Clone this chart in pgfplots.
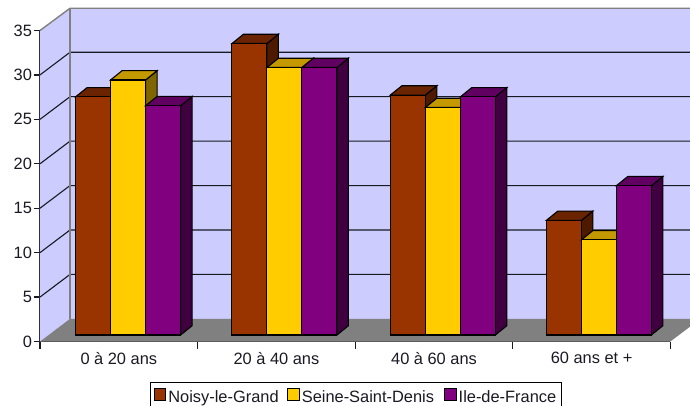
\documentclass[border=0pt]{standalone}
\usepackage{pgfplots}
\usepackage{pgfplotstable}
\usepackage{fontspec}
\pgfplotsset{compat=1.18}
\setmainfont{Liberation Sans}

\definecolor{wall}{RGB}{204,204,255}
\definecolor{floorgrey}{RGB}{128,128,128}
\definecolor{brownF}{RGB}{153,51,0}
\definecolor{brownT}{RGB}{107,36,0}
\definecolor{brownS}{RGB}{77,26,0}
\definecolor{yellowF}{RGB}{255,204,0}
\definecolor{yellowT}{RGB}{196,153,0}
\definecolor{yellowS}{RGB}{128,102,0}
\definecolor{purpleF}{RGB}{128,0,128}
\definecolor{purpleT}{RGB}{96,0,96}
\definecolor{purpleS}{RGB}{64,0,64}
\definecolor{inkline}{RGB}{25,25,35}

% Share of the population per age group, in percent
\pgfplotstableread{
pos    noisy seine idf
0.500  26.8  28.7  25.8
1.492  32.8  30.1  30.1
2.497  27.0  25.6  26.8
3.487  12.9  10.7  16.8
}\agetable

\newcommand{\ypx}{8.886}   % one percent, in points
\newcommand{\barw}{35.0}   % bar width, in points
\newcommand{\depx}{11.5}   % bar depth, horizontal
\newcommand{\depy}{9.3}    % bar depth, vertical

\pgfdeclareplotmark{emptymark}{}

% Side and top faces of a bar, drawn from the point at the top centre of its front
\pgfplotsset{
  bar depth faces/.style n args={2}{
    forget plot, scatter, only marks, mark=emptymark,
    visualization depends on={rawy \as \barval},
    scatter/@pre marker code/.code={%
      \pgfmathsetmacro\hw{\barw/2}%
      \pgfmathsetmacro\hh{\barval*\ypx}%
      \pgfsetstrokecolor{black}%
      \pgfsetlinewidth{1.1pt}%
      \pgfsetfillcolor{#1}%
      \pgfpathmoveto{\pgfpoint{\hw pt}{0pt}}%
      \pgfpathlineto{\pgfpoint{\hw pt+\depx pt}{\depy pt}}%
      \pgfpathlineto{\pgfpoint{\hw pt+\depx pt}{\depy pt-\hh pt}}%
      \pgfpathlineto{\pgfpoint{\hw pt}{-\hh pt}}%
      \pgfpathclose
      \pgfusepath{fill,stroke}%
      \pgfsetfillcolor{#2}%
      \pgfpathmoveto{\pgfpoint{-\hw pt}{0pt}}%
      \pgfpathlineto{\pgfpoint{-\hw pt+\depx pt}{\depy pt}}%
      \pgfpathlineto{\pgfpoint{\hw pt+\depx pt}{\depy pt}}%
      \pgfpathlineto{\pgfpoint{\hw pt}{0pt}}%
      \pgfpathclose
      \pgfusepath{fill,stroke}%
    },
    scatter/@post marker code/.code={},
  },
  bar front/.style={
    ybar, bar width=\barw pt, bar shift=0pt,
    fill=#1, draw=black, line width=1.1pt,
    legend image code/.code={
      \draw[fill=#1, draw=black, line width=1.1pt]
        (0pt,-9.6pt) rectangle (11.6pt,2.0pt);
    },
  },
  wall line/.style={forget plot, no markers, draw=inkline, line width=1.1pt},
}

\begin{document}
\begin{tikzpicture}[x=1pt,y=1pt]
\path[use as bounding box] (0,0) rectangle (690,405);
\begin{axis}[
  at={(40pt,63.5pt)}, anchor=south west,
  scale only axis, x=157.6pt, y=8.886pt,
  xmin=0, xmax=4, ymin=0, ymax=35,
  clip=false, clip mode=individual,
  axis x line*=bottom, axis y line*=left,
  axis line style={draw=inkline, line width=1.3pt},
  tick align=outside,
  major tick length=6pt, minor tick length=7pt,
  tick style={draw=inkline, line width=1.2pt},
  major x tick style={draw=none},
  xtick={0.5,1.5,2.5,3.5},
  xticklabels={0 à 20 ans,20 à 40 ans,40 à 60 ans,60 ans et +},
  minor xtick={0,1,2,3,4},
  ytick={0,5,...,35},
  /pgf/number format/assume math mode=true,
  tick label style={font=\fontsize{16.4}{18}\selectfont, text=inkline},
  yticklabel style={xshift=1.5pt},
  xticklabel style={yshift=-1pt},
  legend columns=3,
  legend style={
    at={(0.1738,-0.1300)}, anchor=north west,
    draw=black, line width=1.2pt, fill=white,
    font=\fontsize{16.4}{18}\selectfont,
    inner xsep=3.5pt, inner ysep=5.5pt,
    nodes={inner xsep=2pt, inner ysep=2pt, text=inkline},
    /tikz/column 2/.style={column sep=6.5pt},
    /tikz/column 4/.style={column sep=8pt},
  },
]

% Side wall, back wall and floor of the box
\addplot[forget plot, no markers, fill=wall, draw=none]
  coordinates {(0,0) (0,35) (0.1904,37.5) (0.1904,2.55)} --cycle;
\addplot[forget plot, no markers, fill=wall, draw=none]
  coordinates {(0.1904,2.55) (0.1904,37.5) (4.1245,37.5) (4.1245,2.55)} --cycle;
\addplot[forget plot, no markers, fill=floorgrey, draw=none]
  coordinates {(0,0) (4,0) (4.1245,1.67) (4.1245,2.55) (0.1904,2.55)} --cycle;

% Gridlines running over the side wall and on along the back wall
\addplot[wall line] coordinates {(0,5)  (0.1904,7.55)  (4.1245,7.55)};
\addplot[wall line] coordinates {(0,10) (0.1904,12.55) (4.1245,12.55)};
\addplot[wall line] coordinates {(0,15) (0.1904,17.55) (4.1245,17.55)};
\addplot[wall line] coordinates {(0,20) (0.1904,22.55) (4.1245,22.55)};
\addplot[wall line] coordinates {(0,25) (0.1904,27.55) (4.1245,27.55)};
\addplot[wall line] coordinates {(0,30) (0.1904,32.55) (4.1245,32.55)};

% Wall edges
\addplot[forget plot, no markers, draw=floorgrey, line width=1.4pt]
  coordinates {(0,35) (0.1904,37.5) (4.1245,37.5)};
\addplot[forget plot, no markers, draw=floorgrey, line width=1.4pt]
  coordinates {(0.1904,37.5) (0.1904,2.55)};

% Bars, left to right, so that each one overlaps the depth of its neighbour
\addplot[bar depth faces={brownS}{brownT}, xshift=-25.7pt, yshift=6.5pt]
  table[x=pos, y=noisy] {\agetable};
\addplot[bar front=brownF, xshift=-25.7pt, yshift=6.5pt]
  table[x=pos, y=noisy] {\agetable};

\addplot[bar depth faces={yellowS}{yellowT}, xshift=9.3pt, yshift=6.5pt]
  table[x=pos, y=seine] {\agetable};
\addplot[bar front=yellowF, xshift=9.3pt, yshift=6.5pt]
  table[x=pos, y=seine] {\agetable};

\addplot[bar depth faces={purpleS}{purpleT}, xshift=44.3pt, yshift=6.5pt]
  table[x=pos, y=idf] {\agetable};
\addplot[bar front=purpleF, xshift=44.3pt, yshift=6.5pt]
  table[x=pos, y=idf] {\agetable};

\legend{Noisy-le-Grand,Seine-Saint-Denis,Ile-de-France}
\end{axis}
\end{tikzpicture}
\end{document}
